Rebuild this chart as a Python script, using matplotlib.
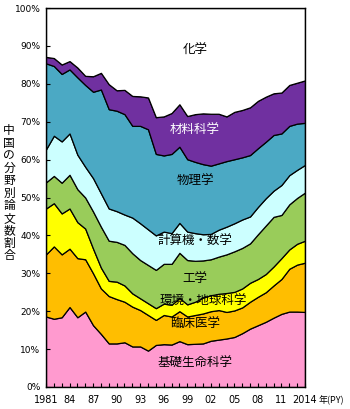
import matplotlib
matplotlib.use("Agg")
import matplotlib.pyplot as plt
import numpy as np

plt.rcParams['font.family'] = ['Noto Sans CJK JP', 'DejaVu Sans']

years = list(range(1981, 2015))

# Share of papers by field (%), bottom to top of the stack
basic_life = [18.6, 18.0, 18.4, 21.1, 18.4, 19.9, 16.3, 14.0, 11.5, 11.5, 11.8, 10.7,
              10.7, 9.6, 11.1, 11.3, 11.2, 12.1, 11.3, 11.4, 11.5, 12.2, 12.5, 12.8,
              13.2, 14.2, 15.4, 16.3, 17.2, 18.3, 19.3, 19.9, 19.9, 19.8]
clinical = [16.4, 19.1, 16.6, 15.4, 15.6, 13.8, 13.7, 12.0, 12.5, 11.7, 10.7, 10.5,
            9.6, 9.4, 6.6, 7.7, 7.4, 7.9, 7.3, 7.6, 7.9, 7.8, 7.8, 7.0,
            7.0, 6.8, 7.1, 7.5, 7.8, 8.5, 9.2, 11.3, 12.4, 13.0]
environment = [12.1, 11.4, 10.8, 10.6, 9.5, 8.1, 6.5, 5.5, 4.0, 4.6, 4.3, 3.5,
               3.1, 3.1, 3.1, 3.0, 3.1, 3.5, 3.2, 3.5, 4.2, 4.2, 4.3, 5.0,
               4.9, 5.0, 5.0, 4.7, 4.8, 5.0, 5.5, 5.1, 5.5, 5.8]
engineering = [6.9, 7.2, 8.1, 8.9, 8.7, 8.2, 9.8, 10.8, 10.6, 10.5, 10.7, 10.6,
               10.1, 10.1, 10.1, 10.5, 10.8, 11.9, 11.7, 10.8, 9.8, 9.5, 9.8, 10.2,
               10.7, 10.7, 10.4, 11.8, 12.8, 13.1, 11.4, 11.9, 12.1, 12.7]
computer_math = [8.7, 10.6, 10.9, 10.9, 9.1, 8.1, 8.8, 8.8, 8.5, 8.1, 8.0, 9.4,
                 9.7, 9.4, 9.1, 8.5, 8.1, 7.9, 7.5, 7.3, 6.9, 6.7, 7.1, 7.3,
                 7.4, 7.5, 7.1, 7.2, 7.2, 6.9, 7.9, 7.7, 7.4, 7.3]
physics = [22.7, 18.4, 17.8, 16.9, 20.4, 21.6, 22.8, 27.4, 26.2, 26.5, 26.5, 24.2,
           25.7, 26.4, 21.5, 20.1, 20.9, 20.1, 19.1, 18.8, 18.5, 18.0, 17.5, 17.3,
           16.9, 16.4, 16.2, 15.5, 14.9, 14.7, 13.6, 13.0, 12.2, 11.1]
materials = [1.7, 2.1, 2.5, 2.2, 2.6, 2.4, 4.1, 4.4, 6.6, 5.4, 6.4, 7.9,
             7.8, 8.4, 9.7, 10.3, 10.8, 11.2, 11.4, 12.6, 13.4, 13.7, 13.1, 11.8,
             12.5, 12.5, 12.6, 12.5, 11.9, 11.0, 10.8, 10.8, 10.8, 11.2]
chemistry = [12.9, 13.2, 14.9, 14.0, 15.7, 17.9, 18.0, 17.1, 20.1, 21.7, 21.6, 23.2,
             23.3, 23.6, 28.8, 28.6, 27.7, 25.4, 28.5, 28.0, 27.8, 27.9, 27.9, 28.6,
             27.4, 26.9, 26.2, 24.5, 23.4, 22.5, 22.3, 20.3, 19.7, 19.1]

fields = ['基礎生命科学', '臨床医学', '環境・地球科学', '工学', '計算機・数学',
          '物理学', '材料科学', '化学']
series = [basic_life, clinical, environment, engineering, computer_math,
          physics, materials, chemistry]
colors = ['#FF9ACF', '#FFBE00', '#FFFF00', '#99CC5A', '#CCFFFF',
          '#4BA9C4', '#7030A0', '#FFFFFF']

xtick_years = [1981, 1984, 1987, 1990, 1993, 1996, 1999, 2002, 2005, 2008, 2011, 2014]
xtick_labels = ['1981', '84', '87', '90', '93', '96', '99', '02', '05', '08', '11', '2014']

# label positions (year, %) and text colours
label_pos = [(2000.0, 6.2), (2000.0, 16.4), (2001.0, 22.5), (2000.0, 28.7),
             (2000.0, 38.3), (2000.0, 54.2), (2000.0, 67.8), (2000.0, 88.9)]
label_colors = ['black'] * 6 + ['white', 'black']

fig = plt.figure(figsize=(3.5, 4.09), dpi=100)
ax = fig.add_axes([0.1314, 0.0538, 0.74, 0.9266])

ax.stackplot(years, *series, colors=colors, edgecolor='black', linewidth=0.9)

ax.set_xlim(1981, 2014)
ax.set_ylim(0, 100)
ax.set_yticks(np.arange(0, 101, 10))
ax.set_yticklabels([f'{v}%' for v in range(0, 101, 10)], fontsize=6.5,
                   family='DejaVu Sans')
ax.set_xticks(xtick_years)
ax.set_xticklabels(xtick_labels, fontsize=7, family='DejaVu Sans')
ax.set_xticks(years, minor=True)
ax.tick_params(axis='both', which='both', direction='in', length=3, width=0.8)
ax.tick_params(axis='x', which='major', pad=6)
ax.tick_params(axis='y', pad=4)
for s in ax.spines.values():
    s.set_linewidth(1.0)

for name, (x, y), c in zip(fields, label_pos, label_colors):
    ax.text(x, y, name, ha='center', va='center', fontsize=9, color=c)

fig.text(0.947, 0.022, '年(PY)', ha='center', va='center', fontsize=6.5)
fig.text(0.026, 0.528, '\n'.join('中国の分野別論文数割合'), ha='center', va='center',
         fontsize=8.5, linespacing=0.95)

fig.savefig('out.png', dpi=100)
